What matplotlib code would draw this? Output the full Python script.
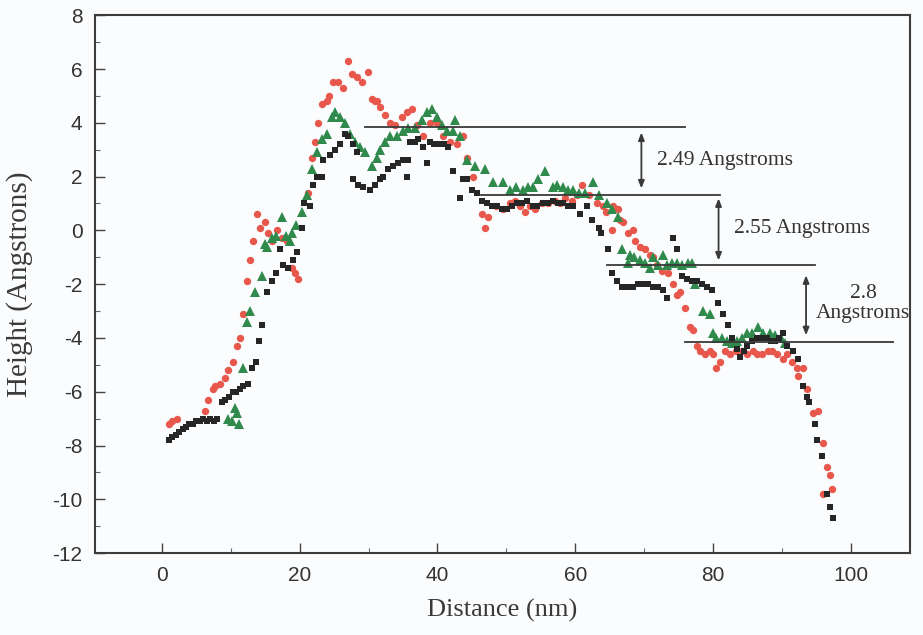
import matplotlib
matplotlib.use("Agg")
import matplotlib.pyplot as plt
from matplotlib.ticker import MultipleLocator

plt.rcParams["axes.unicode_minus"] = False

# ---- data ----
black_x = [1.0, 1.5, 2.0, 2.5, 3.0, 3.5, 4.0, 4.5, 5.0, 5.5, 6.0, 6.5, 7.0, 7.5, 8.0,
           8.7, 9.2, 9.8, 10.3, 10.8, 11.3, 11.8, 12.5, 13.1, 13.6, 14.1, 14.6, 15.2,
           16.0, 16.6, 17.1, 17.6, 18.3, 19.0, 19.6, 20.3, 20.6, 21.5, 21.9, 22.5,
           23.2, 23.4, 24.4, 25.1, 25.8, 26.6, 27.0, 27.7, 27.7, 28.3, 28.4, 29.2,
           30.2, 30.9, 31.6, 32.1, 32.8, 33.5, 34.3, 35.0, 35.6, 35.7, 36.0, 36.7,
           37.2, 37.9, 38.5, 38.9, 39.5, 40.3, 41.0, 41.6, 42.2, 43.3, 43.7, 44.3,
           45.0, 45.7, 46.4, 47.2, 47.9, 48.6, 49.3, 50.1, 50.8, 51.5, 52.2, 53.0,
           53.8, 54.5, 55.3, 56.0, 56.7, 57.5, 58.2, 59.0, 59.7, 60.7, 61.7, 62.4,
           63.4, 63.8, 64.7, 65.3, 66.0, 66.8, 67.6, 68.4, 69.1, 69.8, 70.5, 71.3,
           72.0, 72.7, 73.3, 74.2, 74.7, 75.5, 76.2, 77.0, 77.7, 78.4, 79.1, 79.8,
           80.7, 81.4, 82.2, 82.8, 83.5, 83.9, 84.5, 85.0, 85.7, 86.4, 87.1, 87.8,
           88.4, 89.0, 89.6, 90.1, 90.7, 91.6, 92.3, 93.0, 93.6, 94.0, 94.8, 95.1,
           95.8, 96.5, 97.0, 97.4]
black_y = [-7.8, -7.7, -7.6, -7.5, -7.4, -7.3, -7.2, -7.2, -7.1, -7.1, -7.0, -7.1, -7.0, -7.1, -7.0,
           -6.4, -6.3, -6.2, -6.0, -6.0, -5.9, -5.8, -5.7, -5.1, -4.9, -4.1, -3.5, -2.3,
           -1.9, -1.6, -0.7, -1.3, -1.4, -1.1, -0.8, 0.1, 1.0, 0.9, 1.7, 2.0,
           2.0, 2.6, 2.8, 3.0, 3.2, 3.6, 3.5, 3.2, 1.9, 2.9, 1.7, 1.6,
           1.5, 1.7, 1.9, 2.0, 2.3, 2.4, 2.5, 2.6, 2.0, 2.6, 3.3, 3.3,
           3.4, 3.1, 2.5, 3.3, 3.2, 3.2, 3.2, 3.1, 2.2, 1.2, 1.9, 1.9,
           1.5, 1.4, 1.1, 1.0, 0.9, 0.9, 0.8, 0.8, 0.9, 1.0, 1.0, 1.1,
           0.9, 0.9, 1.0, 1.0, 1.1, 1.0, 1.0, 0.9, 0.9, 0.6, 0.9, 0.4,
           0.1, -0.1, -0.7, -1.6, -1.9, -2.1, -2.1, -2.1, -2.0, -2.0, -2.0, -2.1,
           -2.1, -2.2, -2.5, -0.3, -0.7, -1.7, -1.8, -1.9, -1.9, -2.0, -2.1, -2.2,
           -2.7, -3.1, -3.5, -4.0, -4.4, -4.7, -4.5, -4.3, -4.1, -4.0, -4.0, -4.0,
           -4.1, -4.1, -4.0, -3.8, -4.3, -4.5, -4.8, -5.8, -6.2, -6.4, -7.2, -7.8,
           -8.4, -9.8, -10.3, -10.7]

red_x = [1.0, 1.5, 2.2, 6.2, 6.7, 7.4, 7.7, 8.4, 9.1, 9.6, 10.3, 10.9, 11.3, 11.8,
         12.3, 12.8, 13.2, 13.8, 14.2, 14.9, 15.4, 16.0, 16.7, 17.4, 18.1, 18.9, 19.3,
         19.7, 21.2, 21.8, 22.2, 22.7, 23.2, 23.9, 24.3, 24.8, 25.5, 26.3, 27.0, 27.6,
         28.3, 29.0, 29.9, 30.5, 30.9, 31.2, 31.6, 32.4, 33.1, 33.8, 34.8, 35.6, 36.3,
         37.0, 37.9, 38.9, 39.9, 40.8, 41.8, 42.8, 43.7, 44.3, 45.1, 46.4, 46.9, 47.3,
         48.5, 49.5, 50.5, 51.2, 52.0, 52.7, 53.5, 54.1, 55.2, 56.0, 57.0, 57.8, 58.5,
         59.5, 60.2, 61.0, 62.0, 63.1, 64.0, 64.5, 65.3, 65.5, 66.2, 66.5, 66.9, 67.6,
         68.4, 68.6, 69.4, 70.1, 70.8, 71.3, 71.8, 72.6, 73.4, 74.2, 74.7, 75.2, 75.9,
         76.6, 77.1, 77.6, 78.1, 78.8, 79.5, 80.0, 80.5, 81.0, 81.7, 82.5, 83.3, 84.2,
         85.0, 85.8, 86.4, 87.1, 88.0, 88.6, 89.3, 90.1, 90.8, 91.5, 92.2, 92.3, 93.0,
         93.7, 94.5, 95.2, 95.9, 96.5, 97.0, 95.9, 97.2]
red_y = [-7.2, -7.1, -7.0, -6.7, -6.3, -5.9, -5.8, -5.7, -5.5, -5.2, -4.9, -4.3, -4.0, -3.1,
         -1.9, -1.1, -0.4, 0.6, 0.1, 0.3, -0.1, -0.4, 0.0, -0.3, -0.4, -1.4, -1.6,
         -1.8, 1.4, 2.7, 3.3, 4.0, 4.7, 4.8, 5.0, 5.5, 5.5, 5.3, 6.3, 5.8,
         5.7, 5.5, 5.9, 4.9, 4.8, 4.8, 4.6, 4.3, 4.0, 3.9, 4.2, 4.4, 4.5,
         3.9, 3.5, 4.0, 4.0, 3.5, 3.3, 3.2, 3.5, 2.7, 2.0, 0.6, 0.1, 0.5,
         0.9, 0.8, 1.0, 1.1, 0.9, 0.7, 0.9, 0.8, 1.0, 1.0, 1.1, 1.0, 1.2,
         1.1, 1.3, 1.7, 1.3, 1.0, 0.9, 0.7, 0.0, 0.9, 0.8, 0.4, 0.3, -0.1,
         0.0, -0.4, -0.6, -0.7, -0.9, -1.0, -1.3, -1.5, -1.6, -2.0, -2.4, -2.3, -2.9,
         -3.6, -3.7, -4.3, -4.5, -4.6, -4.5, -4.6, -5.1, -4.9, -4.5, -4.6, -4.5, -4.5,
         -4.6, -4.5, -4.6, -4.6, -4.5, -4.5, -4.6, -4.8, -4.6, -4.9, -5.1, -5.4, -5.1,
         -5.9, -6.8, -6.7, -7.9, -8.8, -9.1, -9.8, -9.6]

green_x = [9.6, 10.2, 10.6, 10.9, 11.2, 11.8, 12.3, 12.8, 13.5, 14.5, 14.9, 15.2, 16.0,
           16.6, 17.4, 18.0, 18.6, 18.9, 19.5, 20.3, 21.0, 21.8, 22.5, 23.2, 23.9, 24.7,
           25.1, 25.8, 26.6, 27.3, 28.0, 28.7, 29.5, 30.5, 31.2, 31.6, 32.4, 33.1, 34.1,
           35.0, 35.7, 36.7, 37.7, 38.5, 39.2, 39.9, 40.6, 41.4, 42.2, 42.5, 43.3, 44.3,
           45.5, 46.9, 48.0, 49.5, 50.5, 51.4, 52.4, 53.2, 53.8, 54.6, 55.6, 56.7, 57.4,
           58.2, 59.0, 59.7, 60.5, 61.4, 62.6, 63.5, 64.6, 65.4, 66.2, 66.8, 67.6, 67.9,
           68.5, 69.4, 70.1, 70.8, 71.3, 72.0, 72.7, 73.3, 74.0, 74.7, 75.5, 76.3, 77.0,
           77.4, 78.5, 79.5, 80.0, 80.5, 81.3, 82.0, 82.8, 83.5, 84.2, 84.9, 85.6, 86.5,
           87.2, 88.2, 89.0, 89.8, 90.5]
green_y = [-7.0, -7.1, -6.6, -6.8, -7.2, -5.1, -3.4, -3.0, -2.3, -1.7, -0.5, -0.6, -0.3,
           -0.2, 0.5, -0.2, -0.4, -0.1, 0.2, 0.7, 1.3, 2.3, 2.9, 3.4, 3.6, 4.2,
           4.4, 4.2, 4.0, 3.6, 3.3, 3.1, 2.9, 2.4, 2.7, 3.0, 3.3, 3.5, 3.5,
           3.7, 3.8, 3.8, 4.1, 4.4, 4.5, 4.2, 3.9, 3.7, 3.7, 4.1, 3.5, 2.6,
           2.4, 2.3, 1.8, 1.8, 1.5, 1.6, 1.5, 1.6, 1.6, 1.9, 2.2, 1.6, 1.7,
           1.6, 1.5, 1.5, 1.4, 1.4, 1.8, 1.3, 1.0, 0.8, 0.5, -0.7, -1.2, -0.9,
           -1.0, -1.1, -1.2, -1.4, -1.0, -1.3, -0.9, -1.3, -1.2, -1.2, -1.3, -1.2, -1.2,
           -2.0, -3.0, -3.1, -3.8, -4.0, -4.0, -4.1, -4.2, -4.1, -4.0, -3.8, -3.8, -3.6,
           -3.8, -3.8, -3.9, -4.0, -4.2]

x_ticks = [0, 20, 40, 60, 80, 100]
y_ticks = [8, 6, 4, 2, 0, -2, -4, -6, -8, -10, -12]

# step annotations: (level y, x start, x end)
step_levels = [3.83, 1.30, -1.30, -4.16]
step_x0 = [29.5, 46.3, 64.6, 75.9]
step_x1 = [75.9, 81.0, 94.8, 106.1]
arrow_x = [69.6, 80.8, 93.5]
arrow_top = [3.64, 1.19, -1.67]
arrow_bot = [1.56, -1.12, -3.90]
step_labels = ["2.49 Angstroms", "2.55 Angstroms", "2.8\nAngstroms"]

# ---- figure ----
fig = plt.figure(figsize=(9.23, 6.35), dpi=100)
fig.patch.set_facecolor("#fbfcfd")
ax = fig.add_axes([0.103, 0.129, 0.883, 0.847])
ax.set_facecolor("#fbfcfd")

ax.plot(red_x, red_y, linestyle="none", marker="o", markersize=5.3,
        color="#e8574b", markeredgewidth=0, zorder=3)
ax.plot(green_x, green_y, linestyle="none", marker="^", markersize=6.8,
        color="#2f8a4c", markeredgewidth=0, zorder=4)
ax.plot(black_x, black_y, linestyle="none", marker="s", markersize=4.8,
        color="#262626", markeredgewidth=0, zorder=5)

for lv, a, b in zip(step_levels, step_x0, step_x1):
    ax.plot([a, b], [lv, lv], color="#3a3a3a", lw=1.3, zorder=6, clip_on=False)

for xa, t, bt in zip(arrow_x, arrow_top, arrow_bot):
    ax.annotate("", xy=(xa, bt), xytext=(xa, t),
                arrowprops=dict(arrowstyle="<|-|>,head_length=0.45,head_width=0.18",
                                color="#3a3a3a", lw=1.3, shrinkA=0, shrinkB=0),
                zorder=6)

serif = ["Liberation Serif", "DejaVu Serif"]
ax.text(71.9, 2.6, step_labels[0], fontsize=15.5, family=serif, color="#333333",
        va="center", ha="left")
ax.text(83.0, 0.07, step_labels[1], fontsize=15.5, family=serif, color="#333333",
        va="center", ha="left")
ax.text(101.8, -2.72, step_labels[2], fontsize=15.5, family=serif, color="#333333",
        va="center", ha="center", multialignment="center", linespacing=1.05,
        clip_on=False)

ax.set_xlim(-9.7, 108.6)
ax.set_ylim(-12, 8)
ax.set_xticks(x_ticks)
ax.set_yticks(y_ticks)
ax.xaxis.set_minor_locator(MultipleLocator(10))
ax.yaxis.set_minor_locator(MultipleLocator(1))
ax.tick_params(which="major", direction="in", length=7, width=1.0, color="#444444",
               labelsize=15, labelcolor="#333333", pad=9)
ax.tick_params(which="minor", direction="in", length=3.5, width=0.8, color="#666666")
for lbl in ax.get_xticklabels() + ax.get_yticklabels():
    lbl.set_family(["Liberation Sans", "DejaVu Sans"])

for s in ax.spines.values():
    s.set_color("#3c3c3c")
    s.set_linewidth(1.5)

ax.set_xlabel("Distance (nm)", fontsize=19, family=serif, color="#3a3a3a", labelpad=10)
ax.set_ylabel("Height (Angstrons)", fontsize=21, family=serif, color="#3a3a3a",
              labelpad=14)

fig.savefig("out.png", dpi=100, facecolor=fig.get_facecolor())
